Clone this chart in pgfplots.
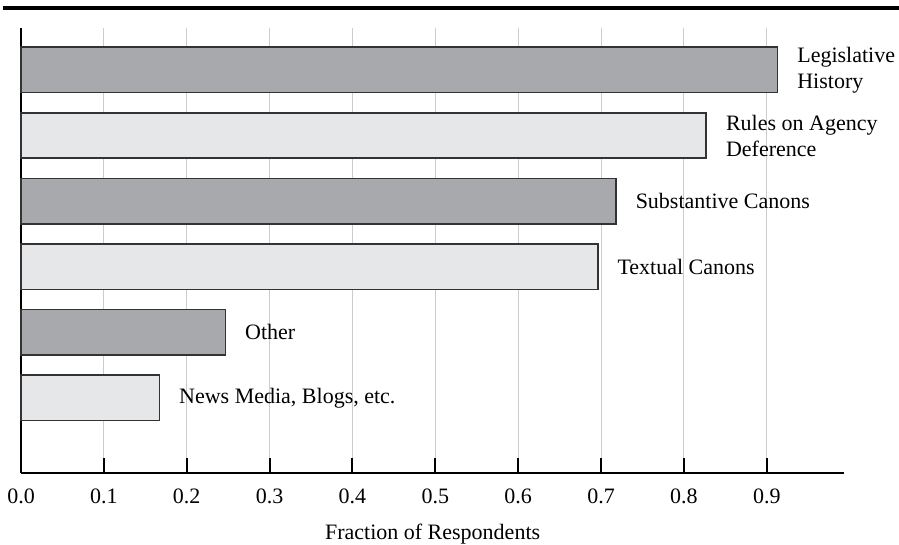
\documentclass[border=0pt]{standalone}
\usepackage{pgfplots}
\pgfplotsset{compat=1.18}
\usepackage{fontspec}
\setmainfont{Liberation Serif}
\definecolor{darkbar}{HTML}{A8A9AC}
\definecolor{lightbar}{HTML}{E6E7E8}
\definecolor{barline}{HTML}{333333}
\definecolor{gridc}{HTML}{CCCCCC}
\begin{document}
\begin{tikzpicture}
\begin{axis}[
  name=ax, at={(0,0)}, anchor=south west,
  scale only axis, width=411.65pt, height=222.35pt,
  xmin=0, xmax=0.9936, ymin=-0.143, ymax=6.64,
  axis x line*=bottom, axis y line*=left,
  axis line style={line width=1pt, black},
  xtick={0,0.1,0.2,0.3,0.4,0.5,0.6,0.7,0.8,0.9},
  xticklabels={0.0,0.1,0.2,0.3,0.4,0.5,0.6,0.7,0.8,0.9},
  ytick=\empty,
  tick align=inside,
  major tick length=7.5pt,
  xtick style={line width=1pt, black},
  xmajorgrids, grid style={gridc, line width=0.5pt},
  xbar, bar shift=0pt, bar width=0.692,
  clip=false,
  font=\fontsize{11}{13}\selectfont,
  xticklabel style={anchor=base, yshift=-15.3pt},
  xlabel={Fraction of Respondents},
  xlabel style={at={(axis description cs:0.5,0)}, anchor=base, yshift=-33.6pt},
  nodes near coords, point meta=explicit symbolic,
  every node near coord/.append style={anchor=west, align=left, inner xsep=0pt, xshift=9.5pt, text=black, font=\fontsize{11}{13}\selectfont},
]
\addplot[xbar, fill=darkbar, draw=barline, line width=0.8pt] coordinates {
  (0.913,6) [Legislative\\History]
  (0.718,4) [Substantive Canons]
  (0.2466,2) [Other]
};
\addplot[xbar, fill=lightbar, draw=barline, line width=0.8pt] coordinates {
  (0.827,5) [Rules on Agency\\Deference]
  (0.696,3) [Textual Canons]
  (0.167,1) [{News Media, Blogs, etc.}]
};
\end{axis}
\draw[line width=2.15pt, black] (-9pt,232.4pt) -- (439pt,232.4pt);
\pgfresetboundingbox
\path[use as bounding box] (-10.5pt,-36.15pt) rectangle (439pt,236.35pt);
\end{tikzpicture}
\end{document}
